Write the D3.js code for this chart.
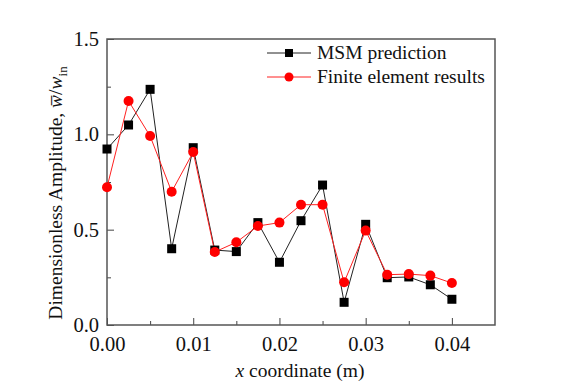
<!DOCTYPE html>
<html>
<head>
<meta charset="utf-8">
<script src="https://cdn.jsdelivr.net/npm/d3@7"></script>
<style>
  body { margin: 0; background: #fff; }
</style>
</head>
<body>
<div id="chart"></div>
<script>
// data
var xPos = [0, 0.0025, 0.005, 0.0075, 0.01, 0.0125, 0.015, 0.0175, 0.02,
            0.0225, 0.025, 0.0275, 0.03, 0.0325, 0.035, 0.0375, 0.04];
var msm = [0.923, 1.049, 1.236, 0.40, 0.93, 0.393, 0.385, 0.537, 0.329,
           0.547, 0.734, 0.119, 0.528, 0.248, 0.252, 0.211, 0.135];
var fem = [0.722, 1.175, 0.991, 0.699, 0.907, 0.383, 0.434, 0.519, 0.537,
           0.631, 0.631, 0.224, 0.495, 0.264, 0.267, 0.259, 0.220];
var xTicks = [0, 0.01, 0.02, 0.03, 0.04];
var yTicks = [0, 0.5, 1.0, 1.5];
var seriesNames = ["MSM prediction", "Finite element results"];

var FONT = "'Liberation Serif', 'Times New Roman', serif";
var FS = "19.5px";
var TICKFS = "20.5px";

var totalWidth = 561, totalHeight = 390;
var margins = {top: 39, right: 66, bottom: 65, left: 107};
var innerWidth = totalWidth - margins.left - margins.right;
var innerHeight = totalHeight - margins.top - margins.bottom;

var svg = d3.select("#chart").append("svg")
    .attr("width", totalWidth)
    .attr("height", totalHeight);

var g = svg.append("g")
    .attr("transform", "translate(" + margins.left + "," + margins.top + ")");

var xSca = d3.scaleLinear().domain([0, 0.045]).range([0, innerWidth]);
var ySca = d3.scaleLinear().domain([0, 1.5]).range([innerHeight, 0]);

// minor ticks (inside)
var xMinor = [0.005, 0.015, 0.025, 0.035];
var yMinor = [0.25, 0.75, 1.25];

g.append("g")
    .attr("transform", "translate(0," + innerHeight + ")")
    .call(d3.axisBottom(xSca).tickValues(xMinor).tickSize(-4).tickFormat(""))
    .call(function(s){ s.select(".domain").remove(); })
    .selectAll("line").attr("stroke", "#444");

g.append("g")
    .call(d3.axisLeft(ySca).tickValues(yMinor).tickSize(-4).tickFormat(""))
    .call(function(s){ s.select(".domain").remove(); })
    .selectAll("line").attr("stroke", "#444");

// x axis
var xAA = g.append("g")
    .attr("transform", "translate(0," + innerHeight + ")")
    .call(d3.axisBottom(xSca).tickValues(xTicks).tickSize(-7).tickPadding(11)
        .tickFormat(d3.format(".2f")));
xAA.select(".domain").remove();
xAA.attr("font-family", null).attr("font-size", null);
xAA.selectAll("line").attr("stroke", "#444");
xAA.selectAll("text").style("font-size", TICKFS)
    .style("font-family", FONT).attr("fill", "#111");

// y axis
var yAA = g.append("g")
    .call(d3.axisLeft(ySca).tickValues(yTicks).tickSize(-7).tickPadding(8)
        .tickFormat(d3.format(".1f")));
yAA.select(".domain").remove();
yAA.attr("font-family", null).attr("font-size", null);
yAA.selectAll("line").attr("stroke", "#444");
yAA.selectAll("text").style("font-size", TICKFS)
    .style("font-family", FONT).attr("fill", "#111");

// frame
g.append("rect")
    .attr("width", innerWidth)
    .attr("height", innerHeight)
    .attr("fill", "none")
    .attr("stroke", "#555")
    .attr("stroke-width", 1.5);

// axis titles
var xt = svg.append("text")
    .attr("x", 300)
    .attr("y", 377)
    .style("text-anchor", "middle")
    .style("font-family", FONT)
    .style("font-size", FS)
    .attr("fill", "#111");
xt.append("tspan").style("font-style", "italic").text("x");
xt.append("tspan").text(" coordinate (m)");

var yt = svg.append("text")
    .attr("transform", "translate(62,193) rotate(-90)")
    .style("text-anchor", "middle")
    .style("font-family", FONT)
    .style("font-size", FS)
    .attr("fill", "#111");
yt.append("tspan").text("Dimensionless Amplitude, ");
yt.append("tspan").style("font-style", "italic").text("w\u0305");
yt.append("tspan").text("/");
yt.append("tspan").style("font-style", "italic").text("w");
yt.append("tspan").attr("dy", 5).style("font-size", "13px").text("in");

// lines
var lineGen = function(vals) {
    return d3.line()
        .x(function(d, i){ return xSca(xPos[i]); })
        .y(function(d){ return ySca(d); })(vals);
};

g.append("path").attr("d", lineGen(msm))
    .attr("fill", "none").attr("stroke", "#222").attr("stroke-width", 1);
g.append("path").attr("d", lineGen(fem))
    .attr("fill", "none").attr("stroke", "#ff2020").attr("stroke-width", 1);

g.selectAll(".sq")
    .data(msm)
    .enter().append("rect")
    .attr("class", "sq")
    .attr("x", function(d, i){ return xSca(xPos[i]) - 4.5; })
    .attr("y", function(d){ return ySca(d) - 4.5; })
    .attr("width", 9).attr("height", 9)
    .attr("fill", "#000");

g.selectAll(".dot")
    .data(fem)
    .enter().append("circle")
    .attr("class", "dot")
    .attr("cx", function(d, i){ return xSca(xPos[i]); })
    .attr("cy", function(d){ return ySca(d); })
    .attr("r", 5)
    .attr("fill", "#ff0000");

// legend
var legend = svg.selectAll(".legend")
    .data(seriesNames)
    .enter().append("g")
    .attr("class", "legend")
    .attr("transform", function(d, i){ return "translate(267," + (53 + i * 24) + ")"; });

legend.append("line")
    .attr("x1", 0).attr("x2", 44)
    .attr("stroke", function(d, i){ return i === 0 ? "#222" : "#ff2020"; })
    .attr("stroke-width", 1);

legend.each(function(d, i){
    var sel = d3.select(this);
    if (i === 0) {
        sel.append("rect").attr("x", 18).attr("y", -4).attr("width", 8).attr("height", 8).attr("fill", "#000");
    } else {
        sel.append("circle").attr("cx", 22).attr("cy", 0).attr("r", 4.5).attr("fill", "#ff0000");
    }
});

legend.append("text")
    .attr("x", 50)
    .attr("dy", "0.32em")
    .style("font-family", FONT)
    .style("font-size", FS)
    .attr("fill", "#111")
    .text(function(d){ return d; });
</script>
</body>
</html>
